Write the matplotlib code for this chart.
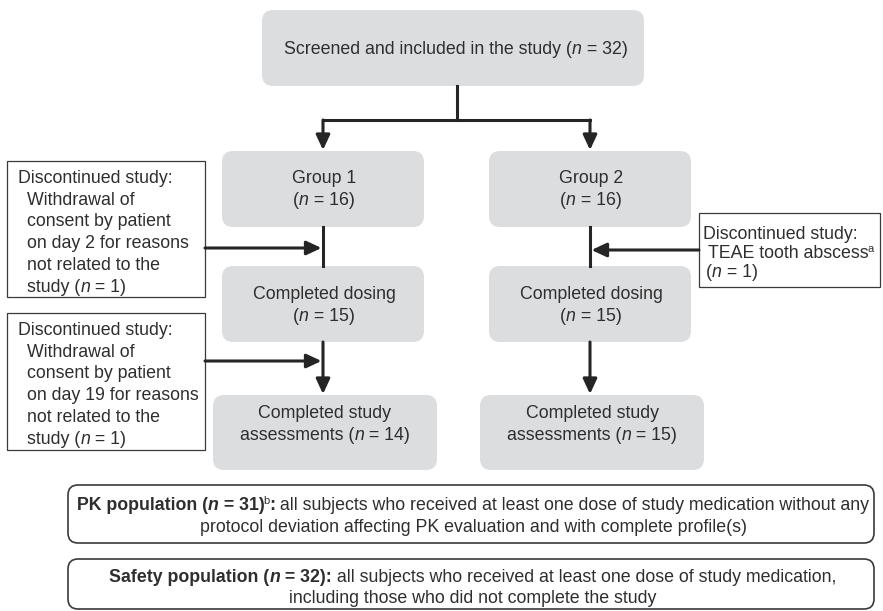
"""Flow chart: patient disposition by group, PK and safety populations."""

import matplotlib
matplotlib.use("Agg")
import matplotlib.pyplot as plt
from matplotlib.font_manager import FontProperties
from matplotlib.patches import FancyBboxPatch, Rectangle

# ---- content ---------------------------------------------------------------
N_SCREENED = 32
GROUP_NAMES = ["Group 1", "Group 2"]
N_GROUP = [16, 16]
N_DOSED = [15, 15]
N_ASSESSED = [14, 15]
N_PK = 31
N_SAFETY = 32

# left column drop-outs (before / after dosing), right column drop-out
LEFT_DROP_1 = ["Discontinued study:", "Withdrawal of", "consent by patient",
               "on day 2 for reasons", "not related to the", "study"]
LEFT_DROP_2 = ["Discontinued study:", "Withdrawal of", "consent by patient",
               "on day 19 for reasons", "not related to the", "study"]
N_LEFT_DROP = [1, 1]
RIGHT_DROP = ["Discontinued study:", "TEAE tooth abscess"]
N_RIGHT_DROP = 1

PK_TEXT = ["all subjects who received at least one dose of study medication without any",
           "protocol deviation affecting PK evaluation and with complete profile(s)"]
SAFETY_TEXT = ["all subjects who received at least one dose of study medication,",
               "including those who did not complete the study"]

# ---- style -----------------------------------------------------------------
FONT = "Liberation Sans"
SIZE = 12.75
SUP_SIZE = 8.0
INK = "#2e2e2e"
LINE = "#252525"
FILL = "#dcdddf"
LW = 2.2

STYLES = {
    "r": dict(),
    "i": dict(style="italic"),
    "b": dict(weight="bold"),
    "bi": dict(weight="bold", style="italic"),
    "sup": dict(),
}

fig = plt.figure(figsize=(8.83, 6.11), dpi=100)
ax = fig.add_axes([0, 0, 1, 1])
ax.set_xlim(0, 883)
ax.set_ylim(611, 0)
ax.axis("off")
renderer = fig.canvas.get_renderer()


def prop_for(style):
    size = SUP_SIZE if style == "sup" else SIZE
    return FontProperties(family=FONT, size=size, **STYLES[style])


def advance(text, style):
    prop = prop_for(style)
    w_full, _, _ = renderer.get_text_width_height_descent("x" + text + "x", prop, ismath=False)
    w_pad, _, _ = renderer.get_text_width_height_descent("xx", prop, ismath=False)
    w = w_full - w_pad
    # superscripts sit tight against the preceding glyph
    return w - 1.5 if style == "sup" else w


def draw_runs(x, y, runs, ha="center"):
    total = sum(advance(t, s) for t, s in runs)
    cx = x - total / 2 if ha == "center" else x
    for text, style in runs:
        if style == "sup":
            ax.text(cx - 1.5, y - 6, text, ha="left", va="baseline",
                    fontproperties=prop_for(style), color=INK)
        else:
            ax.text(cx, y, text, ha="left", va="baseline",
                    fontproperties=prop_for(style), color=INK)
        cx += advance(text, style)


def n_runs(prefix, n, suffix=")", bold=False):
    s, si = ("b", "bi") if bold else ("r", "i")
    return [(prefix + "(", s), ("n", si), (f" = {n}" + suffix, s)]


def grey_box(x0, y0, x1, y1):
    ax.add_patch(FancyBboxPatch((x0, y0), x1 - x0, y1 - y0,
                                boxstyle="round,pad=0,rounding_size=11",
                                facecolor=FILL, edgecolor="none"))


def line_box(x0, y0, x1, y1, rounded=False):
    if rounded:
        ax.add_patch(FancyBboxPatch((x0, y0), x1 - x0, y1 - y0,
                                    boxstyle="round,pad=0,rounding_size=10",
                                    facecolor="white", edgecolor="#3a3a3a", lw=1.2))
    else:
        ax.add_patch(Rectangle((x0, y0), x1 - x0, y1 - y0,
                               facecolor="white", edgecolor="#3a3a3a", lw=0.9))


def arrow(x0, y0, x1, y1):
    ax.annotate("", xy=(x1, y1), xytext=(x0, y0),
                arrowprops=dict(arrowstyle="-|>,head_length=0.6,head_width=0.28",
                                lw=LW, color=LINE, shrinkA=0, shrinkB=0,
                                mutation_scale=15))


def seg(xs, ys):
    ax.plot(xs, ys, color=LINE, lw=LW, solid_capstyle="projecting")


# ---- layout ----------------------------------------------------------------
COL_X = [323, 590]
GROUP_Y = (151, 227)
DOSED_Y = (266, 342)
ASSESS_Y = (395, 470)
HALF_W = 101
ASSESS_HALF_W = 112

# top box
grey_box(262, 10, 644, 86)
draw_runs(456, 54, [("Screened and included in the study (", "r"), ("n", "i"),
                    (f" = {N_SCREENED})", "r")])
seg([457, 457], [86, 120])
seg([COL_X[0], COL_X[1]], [120, 120])
for cx in COL_X:
    arrow(cx, 120, cx, 150)

for k, cx in enumerate(COL_X):
    grey_box(cx - HALF_W, GROUP_Y[0], cx + HALF_W, GROUP_Y[1])
    draw_runs(cx + 1, 183, [(GROUP_NAMES[k], "r")])
    draw_runs(cx + 1, 205, n_runs("", N_GROUP[k]))

    grey_box(cx - HALF_W, DOSED_Y[0], cx + HALF_W, DOSED_Y[1])
    draw_runs(cx + 1, 299, [("Completed dosing", "r")])
    draw_runs(cx + 1, 321, n_runs("", N_DOSED[k]))

    ax_c = cx + 2
    grey_box(ax_c - ASSESS_HALF_W, ASSESS_Y[0], ax_c + ASSESS_HALF_W, ASSESS_Y[1])
    draw_runs(ax_c, 418, [("Completed study", "r")])
    draw_runs(ax_c, 440, n_runs("assessments ", N_ASSESSED[k]))

    seg([cx, cx], [GROUP_Y[1], DOSED_Y[0]])
    arrow(cx, DOSED_Y[1], cx, ASSESS_Y[0] - 1)

# left drop-out boxes
for lines, n, (y0, y1), base, arrow_y in [
        (LEFT_DROP_1, N_LEFT_DROP[0], (161, 297), 183, 248),
        (LEFT_DROP_2, N_LEFT_DROP[1], (313, 450), 335, 361)]:
    line_box(7, y0, 205, y1)
    for j, text in enumerate(lines):
        y = base + j * 21.7
        if j == 0:
            draw_runs(18, y, [(text, "r")], ha="left")
        elif j == len(lines) - 1:
            draw_runs(27, y, n_runs(text + " ", n), ha="left")
        else:
            draw_runs(27, y, [(text, "r")], ha="left")
    arrow(205, arrow_y, COL_X[0] - 1.5, arrow_y)

# right drop-out box
line_box(699, 213, 880, 287)
draw_runs(703, 239, [(RIGHT_DROP[0], "r")], ha="left")
draw_runs(708, 258, [(RIGHT_DROP[1], "r"), ("a", "sup")], ha="left")
draw_runs(706, 277, n_runs("", N_RIGHT_DROP), ha="left")
arrow(699, 250, COL_X[1] + 1.5, 250)

# population boxes
MID = 473
line_box(68, 485, 874, 543, rounded=True)
draw_runs(MID, 510, n_runs("PK population ", N_PK, suffix=")", bold=True)
          + [("b", "sup"), (":", "b"), (" " + PK_TEXT[0], "r")])
draw_runs(MID, 532, [(PK_TEXT[1], "r")])

line_box(68, 559, 874, 609, rounded=True)
draw_runs(MID, 582, n_runs("Safety population ", N_SAFETY, suffix="):", bold=True)
          + [(" " + SAFETY_TEXT[0], "r")])
draw_runs(MID, 603, [(SAFETY_TEXT[1], "r")])

fig.savefig("out.png", dpi=100)
